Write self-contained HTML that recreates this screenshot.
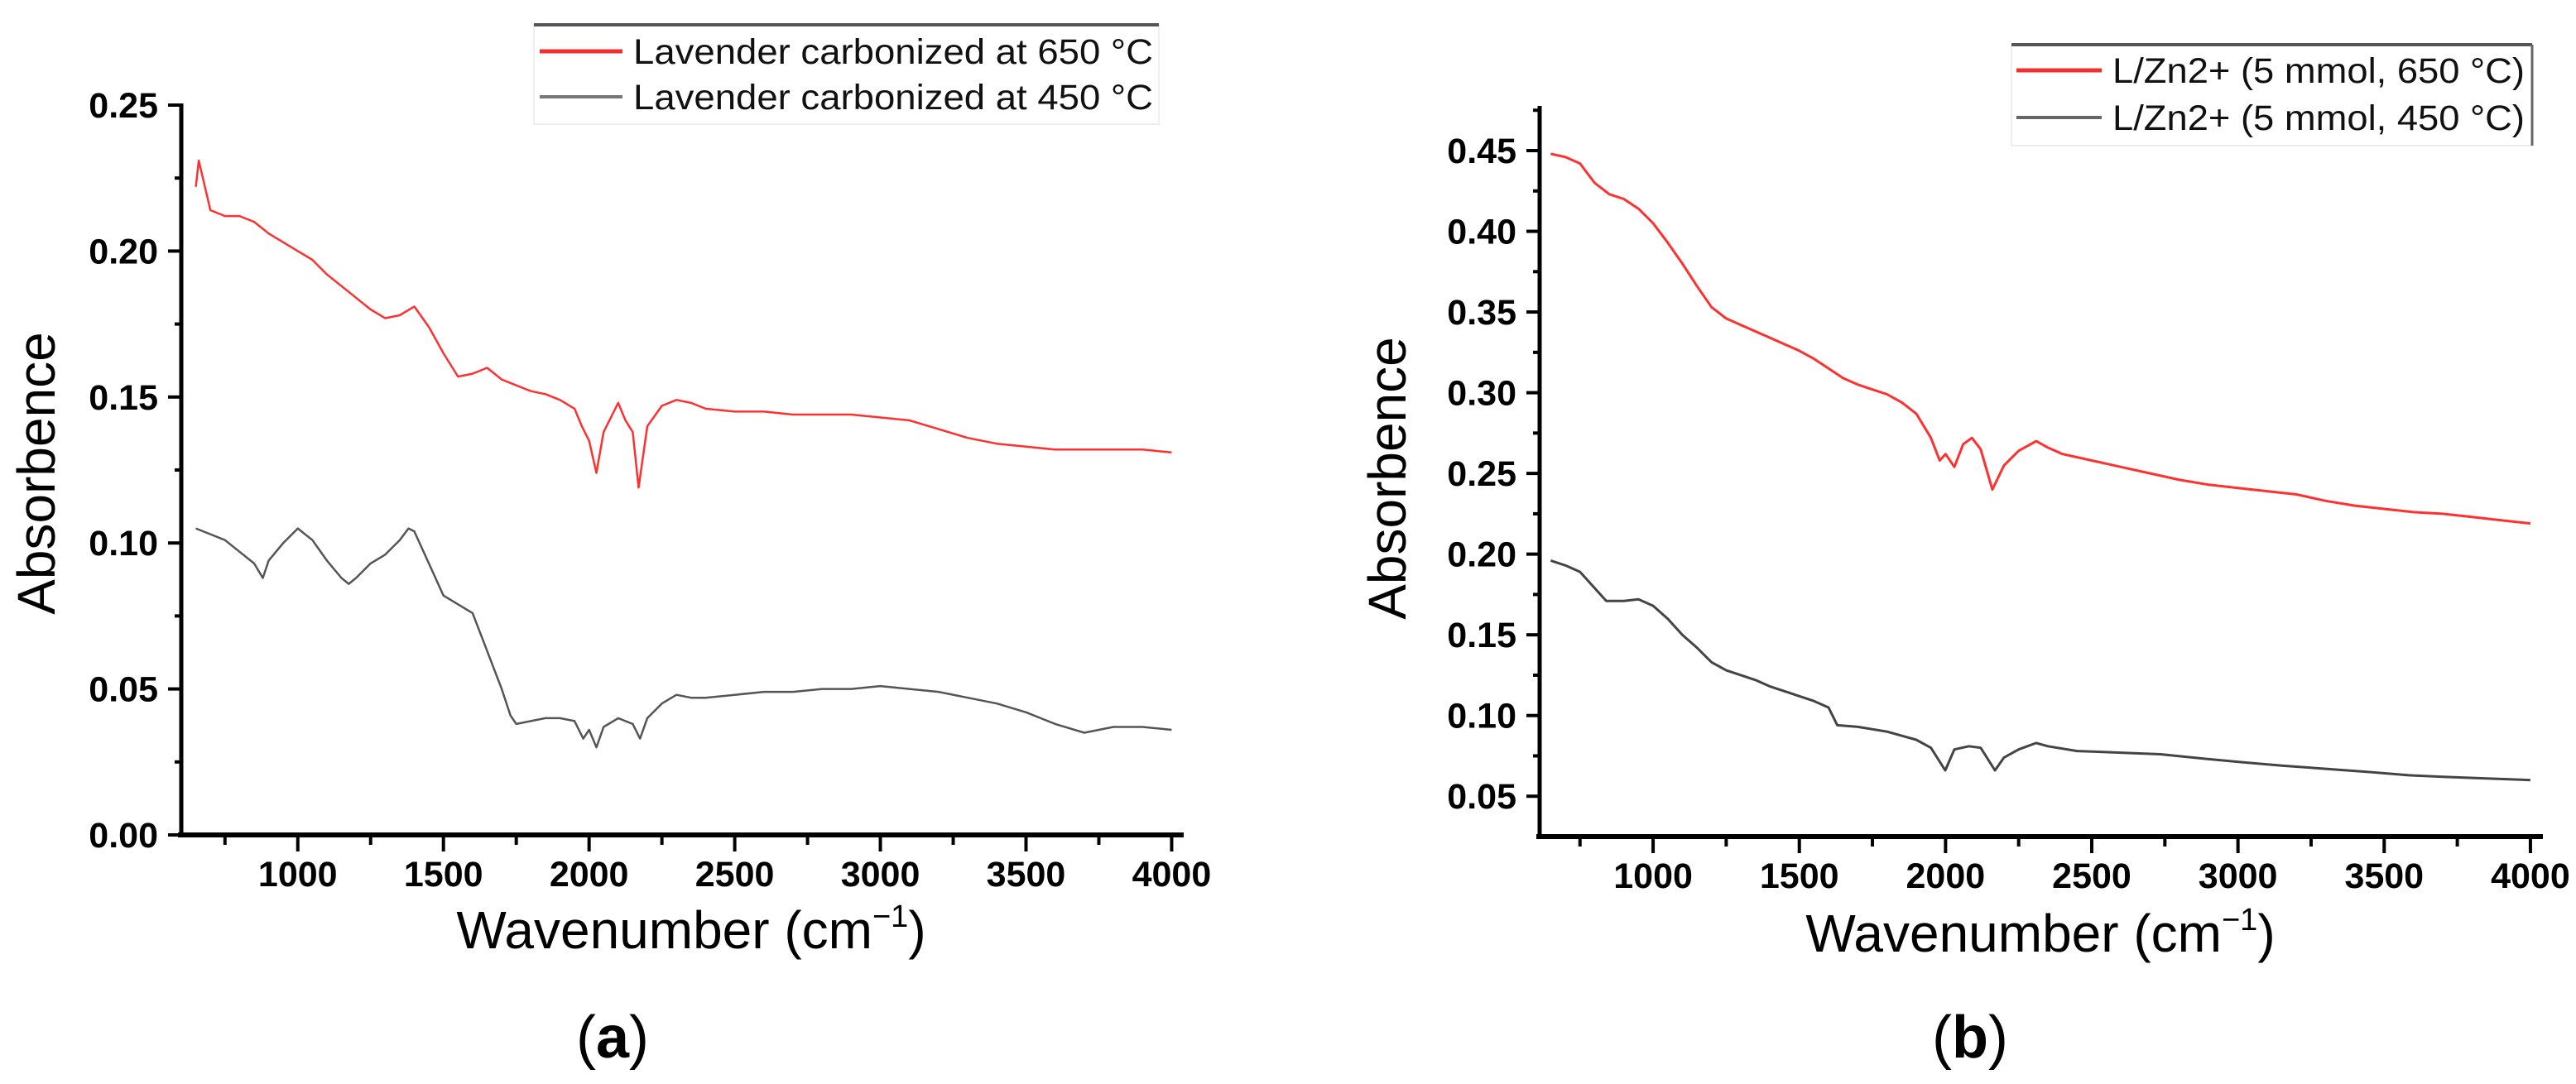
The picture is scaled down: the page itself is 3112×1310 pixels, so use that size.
<!DOCTYPE html>
<html><head><meta charset="utf-8"><style>
html,body{margin:0;padding:0;background:#fff;}
svg{display:block;}
text{font-family:"Liberation Sans",Arial,sans-serif;}
</style></head><body>
<svg id="fig" width="3112" height="1310" viewBox="0 0 3112 1310" xmlns="http://www.w3.org/2000/svg"></svg>
<script>
// ---- Panel (a) data ----
const aRedWn = [650,660,700,750,800,850,900,950,1000,1050,1100,1150,1200,1250,1300,1350,1400,1450,1500,1550,1600,1650,1700,1750,1800,1850,1900,1950,1975,2000,2025,2050,2075,2100,2125,2150,2170,2200,2250,2300,2350,2400,2500,2600,2700,2800,2900,3000,3100,3200,3300,3400,3500,3600,3700,3800,3900,4000];
const aRedVal = [0.222,0.231,0.214,0.212,0.212,0.210,0.206,0.203,0.200,0.197,0.192,0.188,0.184,0.180,0.177,0.178,0.181,0.174,0.165,0.157,0.158,0.160,0.156,0.154,0.152,0.151,0.149,0.146,0.140,0.135,0.124,0.138,0.143,0.148,0.142,0.138,0.119,0.140,0.147,0.149,0.148,0.146,0.145,0.145,0.144,0.144,0.144,0.143,0.142,0.139,0.136,0.134,0.133,0.132,0.132,0.132,0.132,0.131];
const aGrayWn = [650,700,750,800,850,880,900,950,1000,1050,1100,1150,1175,1200,1250,1300,1350,1380,1400,1450,1500,1550,1600,1650,1700,1730,1750,1800,1850,1900,1950,1980,2000,2025,2050,2100,2150,2175,2200,2250,2300,2350,2400,2500,2600,2700,2800,2900,3000,3100,3200,3300,3400,3500,3600,3700,3800,3900,4000];
const aGrayVal = [0.105,0.103,0.101,0.097,0.093,0.088,0.094,0.100,0.105,0.101,0.094,0.088,0.086,0.088,0.093,0.096,0.101,0.105,0.104,0.093,0.082,0.079,0.076,0.063,0.050,0.041,0.038,0.039,0.040,0.040,0.039,0.033,0.036,0.030,0.037,0.040,0.038,0.033,0.040,0.045,0.048,0.047,0.047,0.048,0.049,0.049,0.050,0.050,0.051,0.050,0.049,0.047,0.045,0.042,0.038,0.035,0.037,0.037,0.036];
const aXTicks = [1000,1500,2000,2500,3000,3500,4000];
const aXMinor = [750,1250,1750,2250,2750,3250,3750];
const aYTicks = [0.00,0.05,0.10,0.15,0.20,0.25];
const aYLabels = ["0.00","0.05","0.10","0.15","0.20","0.25"];
const aYMinor = [0.025,0.075,0.125,0.175,0.225];

// ---- Panel (b) data ----
const bRedWn = [650,700,750,800,850,900,950,1000,1050,1100,1150,1200,1250,1300,1350,1400,1450,1500,1550,1600,1650,1700,1750,1800,1850,1900,1950,1980,2000,2030,2060,2090,2120,2160,2200,2250,2310,2350,2400,2500,2600,2700,2800,2900,3000,3100,3200,3300,3400,3500,3600,3700,3800,3900,4000];
const bRedVal = [0.448,0.446,0.442,0.430,0.423,0.420,0.414,0.405,0.393,0.380,0.366,0.353,0.346,0.342,0.338,0.334,0.330,0.326,0.321,0.315,0.309,0.305,0.302,0.299,0.294,0.287,0.272,0.258,0.262,0.254,0.268,0.272,0.265,0.240,0.255,0.264,0.270,0.266,0.262,0.258,0.254,0.250,0.246,0.243,0.241,0.239,0.237,0.233,0.230,0.228,0.226,0.225,0.223,0.221,0.219];
const bGrayWn = [650,700,750,800,840,900,950,1000,1050,1100,1150,1200,1250,1300,1350,1400,1450,1500,1550,1600,1630,1700,1800,1900,1950,1999,2030,2080,2120,2169,2200,2250,2310,2350,2450,2600,2735,2900,3018,3150,3300,3450,3584,3700,3850,4000];
const bGrayVal = [0.196,0.193,0.189,0.179,0.171,0.171,0.172,0.168,0.160,0.150,0.142,0.133,0.128,0.125,0.122,0.118,0.115,0.112,0.109,0.105,0.094,0.093,0.090,0.085,0.080,0.066,0.079,0.081,0.080,0.066,0.074,0.079,0.083,0.081,0.078,0.077,0.076,0.073,0.071,0.069,0.067,0.065,0.063,0.062,0.061,0.060];
const bXTicks = [1000,1500,2000,2500,3000,3500,4000];
const bXMinor = [750,1250,1750,2250,2750,3250,3750];
const bYTicks = [0.05,0.10,0.15,0.20,0.25,0.30,0.35,0.40,0.45];
const bYLabels = ["0.05","0.10","0.15","0.20","0.25","0.30","0.35","0.40","0.45"];
const bYMinor = [0.075,0.125,0.175,0.225,0.275,0.325,0.375,0.425,0.475];

const NS = "http://www.w3.org/2000/svg";
const svg = document.getElementById('fig');
function mk(tag, attrs, parent, txt){
  const e = document.createElementNS(NS, tag);
  for (const k in attrs) e.setAttribute(k, attrs[k]);
  if (txt !== undefined) e.textContent = txt;
  (parent || svg).appendChild(e);
  return e;
}

function panel(cfg){
  const g = mk('g', {});
  
  
  const sx = v => cfg.x0 + (v - cfg.xmin) / (cfg.xmax - cfg.xmin) * (cfg.x1 - cfg.x0);
  const sy = v => cfg.y0 - (v - cfg.ymin) / (cfg.ymax - cfg.ymin) * (cfg.y0 - cfg.y1);
  cfg.series.forEach(s => {
    const pts = s.wn.map((w, i) => sx(w).toFixed(1) + ',' + sy(s.val[i]).toFixed(1)).join(' ');
    const pl = mk('polyline', {points: pts, fill: 'none', stroke: s.color, 'stroke-width': s.w, 'stroke-linejoin': 'round'}, g);
    
    
  });
  const yAxis = mk('line', {x1: cfg.x0, y1: cfg.y0 + 2, x2: cfg.x0, y2: cfg.ytop, stroke: '#000', 'stroke-width': 5}, g);
  
  
  const xAxis = mk('line', {x1: cfg.x0 - 4, y1: cfg.y0, x2: cfg.xend, y2: cfg.y0, stroke: '#000', 'stroke-width': 6}, g);
  
  
  cfg.xTicks.forEach(t => {
    mk('line', {x1: sx(t), y1: cfg.y0, x2: sx(t), y2: cfg.y0 + 20, stroke: '#000', 'stroke-width': 4}, g);
    const lb = mk('text', {x: sx(t), y: cfg.y0 + 62, 'text-anchor': 'middle', 'font-size': 43, 'font-weight': 'bold', fill: '#000'}, g, String(t));
    
    
  });
  cfg.xMinor.forEach(t => {
    mk('line', {x1: sx(t), y1: cfg.y0, x2: sx(t), y2: cfg.y0 + 12, stroke: '#000', 'stroke-width': 4}, g);
  });
  cfg.yTicks.forEach((t, i) => {
    mk('line', {x1: cfg.x0 - 16, y1: sy(t), x2: cfg.x0, y2: sy(t), stroke: '#000', 'stroke-width': 4}, g);
    const lb = mk('text', {x: cfg.x0 - 28, y: sy(t) + 15, 'text-anchor': 'end', 'font-size': 43, 'font-weight': 'bold', fill: '#000'}, g, cfg.yLabels[i]);
    
    
  });
  cfg.yMinor.forEach(t => {
    if (sy(t) < cfg.ytop - 1) return;
    mk('line', {x1: cfg.x0 - 8, y1: sy(t), x2: cfg.x0, y2: sy(t), stroke: '#000', 'stroke-width': 4}, g);
  });
  const yt = mk('text', {x: 0, y: 0, transform: 'translate(' + cfg.ytx + ',' + cfg.yty + ') rotate(-90)', 'text-anchor': 'middle', 'font-size': 64, fill: '#000'}, g, 'Absorbence');
  
  
  const xt = mk('text', {x: cfg.xtx, y: cfg.xty, 'text-anchor': 'middle', 'font-size': 64, fill: '#000'}, g);
  
  
  mk('tspan', {}, xt, 'Wavenumber (cm');
  mk('tspan', {dy: -26, 'font-size': 38}, xt, '\u22121');
  mk('tspan', {dy: 26}, xt, ')');
  const pl = mk('text', {x: cfg.plx, y: 1278, 'text-anchor': 'middle', 'font-size': 72, fill: '#000', 'font-family': '"Liberation Serif", serif'}, g);
  
  
  mk('tspan', {}, pl, '(');
  mk('tspan', {'font-weight': 'bold'}, pl, cfg.letter);
  mk('tspan', {}, pl, ')');
  const L = cfg.legend;
  const lg = mk('g', {}, g);
  
  
  mk('rect', {x: L.x0, y: L.top, width: L.x1 - L.x0, height: L.bottom - L.top, fill: '#fff', stroke: '#eee', 'stroke-width': 2}, lg);
  mk('line', {x1: L.x0, y1: L.top, x2: L.x1, y2: L.top, stroke: '#555', 'stroke-width': 4}, lg);
  if (L.right) mk('line', {x1: L.x1, y1: L.top, x2: L.x1, y2: L.bottom, stroke: '#666', 'stroke-width': 3}, lg);
  L.entries.forEach(en => {
    const eg = mk('g', {}, lg);
    
    
    mk('line', {x1: L.lx0, y1: en.y, x2: L.lx1, y2: en.y, stroke: en.color, 'stroke-width': en.w}, eg);
    mk('text', {x: L.tx, y: en.y + 15, 'font-size': 43, fill: '#111', textLength: L.tw, lengthAdjust: 'spacingAndGlyphs'}, eg, en.label);
  });
}

panel({
  name: 'panel-a', letter: 'a',
  x0: 219, x1: 1426, xend: 1430, xmin: 600, xmax: 4030,
  y0: 1009, y1: 127, ytop: 125, ymin: 0, ymax: 0.25,
  xTicks: aXTicks, xMinor: aXMinor, yTicks: aYTicks, yLabels: aYLabels, yMinor: aYMinor,
  ytx: 66, yty: 572, xtx: 835, xty: 1146, plx: 740,
  series: [
    {name: 'series-650c', wn: aRedWn, val: aRedVal, color: '#ff3030', w: 2.5},
    {name: 'series-450c', wn: aGrayWn, val: aGrayVal, color: '#555', w: 2.5}
  ],
  legend: {x0: 645, x1: 1400, top: 30, bottom: 150, right: false, lx0: 652, lx1: 752, tx: 765, tw: 628,
    entries: [
      {y: 62, color: '#f03030', w: 5, label: 'Lavender carbonized at 650 \u00B0C'},
      {y: 117, color: '#777', w: 4, label: 'Lavender carbonized at 450 \u00B0C'}
    ]}
});

panel({
  name: 'panel-b', letter: 'b',
  x0: 1860, x1: 3070, xend: 3072, xmin: 612, xmax: 4037,
  y0: 1011, y1: 182, ytop: 128, ymin: 0.025, ymax: 0.45,
  xTicks: bXTicks, xMinor: bXMinor, yTicks: bYTicks, yLabels: bYLabels, yMinor: bYMinor,
  ytx: 1698, yty: 578, xtx: 2465, xty: 1150, plx: 2380,
  series: [
    {name: 'series-650c', wn: bRedWn, val: bRedVal, color: '#ff3030', w: 3},
    {name: 'series-450c', wn: bGrayWn, val: bGrayVal, color: '#444', w: 3}
  ],
  legend: {x0: 2430, x1: 3059, top: 54, bottom: 176, right: true, lx0: 2436, lx1: 2539, tx: 2552, tw: 498,
    entries: [
      {y: 85, color: '#f03030', w: 5, label: 'L/Zn2+ (5 mmol, 650 \u00B0C)'},
      {y: 142, color: '#666', w: 4, label: 'L/Zn2+ (5 mmol, 450 \u00B0C)'}
    ]}
});
</script>
</body></html>
